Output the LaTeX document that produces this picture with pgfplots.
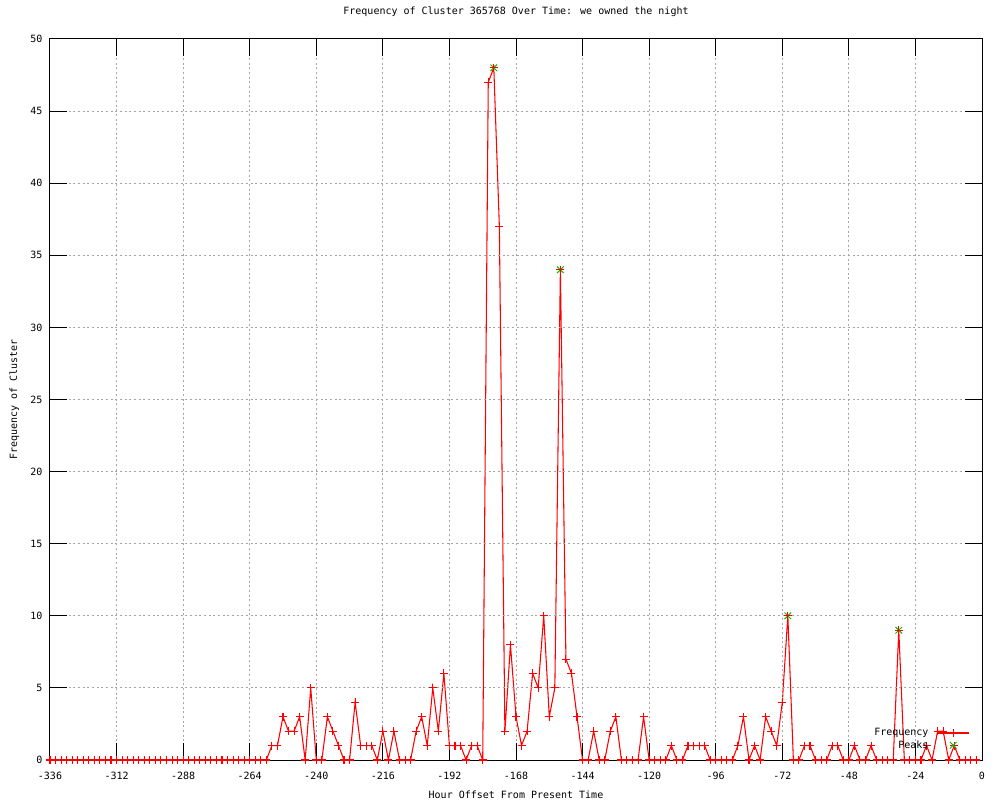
\documentclass[border=0pt]{standalone}
\usepackage{fontspec}
\setmainfont{DejaVu Sans Mono}
\usepackage{pgfplots}
\pgfplotsset{compat=1.18}
\usepackage{pgfplotstable}
\definecolor{gpred}{RGB}{255,0,0}
\definecolor{gpgreen}{RGB}{0,192,0}
\pgfplotstableread{
x y
-336 0
-334 0
-332 0
-330 0
-328 0
-326 0
-324 0
-322 0
-320 0
-318 0
-316 0
-314 0
-312 0
-310 0
-308 0
-306 0
-304 0
-302 0
-300 0
-298 0
-296 0
-294 0
-292 0
-290 0
-288 0
-286 0
-284 0
-282 0
-280 0
-278 0
-276 0
-274 0
-272 0
-270 0
-268 0
-266 0
-264 0
-262 0
-260 0
-258 0
-256 1
-254 1
-252 3
-250 2
-248 2
-246 3
-244 0
-242 5
-240 0
-238 0
-236 3
-234 2
-232 1
-230 0
-228 0
-226 4
-224 1
-222 1
-220 1
-218 0
-216 2
-214 0
-212 2
-210 0
-208 0
-206 0
-204 2
-202 3
-200 1
-198 5
-196 2
-194 6
-192 1
-190 1
-188 1
-186 0
-184 1
-182 1
-180 0
-178 47
-176 48
-174 37
-172 2
-170 8
-168 3
-166 1
-164 2
-162 6
-160 5
-158 10
-156 3
-154 5
-152 34
-150 7
-148 6
-146 3
-144 0
-142 0
-140 2
-138 0
-136 0
-134 2
-132 3
-130 0
-128 0
-126 0
-124 0
-122 3
-120 0
-118 0
-116 0
-114 0
-112 1
-110 0
-108 0
-106 1
-104 1
-102 1
-100 1
-98 0
-96 0
-94 0
-92 0
-90 0
-88 1
-86 3
-84 0
-82 1
-80 0
-78 3
-76 2
-74 1
-72 4
-70 10
-68 0
-66 0
-64 1
-62 1
-60 0
-58 0
-56 0
-54 1
-52 1
-50 0
-48 0
-46 1
-44 0
-42 0
-40 1
-38 0
-36 0
-34 0
-32 0
-30 9
-28 0
-26 0
-24 0
-22 0
-20 1
-18 0
-16 2
-14 2
-12 0
-10 1
-8 0
-6 0
-4 0
-2 0
}\freqdata
\pgfplotstableread{
x y
-176 48
-152 34
-70 10
-30 9
}\peakdata

\begin{document}
\begin{tikzpicture}
\path[use as bounding box] (-37.5pt,-30pt) rectangle (712.5pt,570pt);
\begin{axis}[
  at={(0pt,0pt)}, anchor=south west,
  width=699pt, height=540.75pt, scale only axis,
  xmin=-336, xmax=0, ymin=0, ymax=50,
  xtick={-336,-312,-288,-264,-240,-216,-192,-168,-144,-120,-96,-72,-48,-24,0},
  xticklabels={-336,-312,-288,-264,-240,-216,-192,-168,-144,-120,-96,-72,-48,-24,0},
  ytick={0,5,10,15,20,25,30,35,40,45,50},
  yticklabels={0,5,10,15,20,25,30,35,40,45,50},
  font=\fontsize{7.5}{9}\selectfont,
  axis on top,
  axis line style={black, line width=0.75pt},
  major tick length=12.5pt,
  every tick/.style={black, line width=0.75pt},
  tick align=inside,
  grid=major,
  major grid style={black!35, line width=0.75pt, dash pattern=on 1.5pt off 2pt},
  x tick label style={anchor=base, inner sep=0pt, yshift=-14.25pt},
  y tick label style={anchor=east, inner sep=0pt, xshift=-5.5pt},
  title={Frequency of Cluster 365768 Over Time: we owned the night},
  title style={at={(0.5,1)}, anchor=base, inner sep=0pt, yshift=12pt},
  xlabel={Hour Offset From Present Time},
  xlabel style={at={(axis description cs:0.5,0)}, anchor=base, inner sep=0pt, yshift=-28.5pt},
  ylabel={Frequency of Cluster},
  ylabel style={at={(axis description cs:-0.0354,0.5)}, anchor=base, inner sep=0pt},
  legend style={draw=none, fill=none, at={(0.9871,0.0437)}, anchor=north east,
    inner sep=0pt, outer sep=0pt, nodes={inner sep=0pt}, row sep=2pt, column sep=6pt,
    font=\fontsize{7.5}{9}\selectfont},
  legend plot pos=right,
  legend cell align=right,
  legend image code/.code={\draw[draw=gpred, line width=1.1pt, mark repeat=2,mark phase=2] plot coordinates {(0pt,0pt)(12pt,0pt)(24pt,0pt)};},
]
\addplot[gpgreen, only marks, mark=x, mark size=3.5pt, line width=0.75pt, forget plot] table[x=x,y=y]{\peakdata};
\addplot[gpred, line width=0.8pt, mark=+, mark size=3pt, mark options={gpred, line width=0.8pt}, forget plot] table[x=x,y=y]{\freqdata};
\addlegendimage{gpred, line width=1.1pt, mark=+, mark size=3pt, mark options={draw=gpred, line width=0.8pt}}
\addlegendentry{Frequency}
\addlegendimage{gpgreen, only marks, mark=x, mark size=3.5pt, line width=0.75pt, mark options={draw=gpgreen, line width=0.75pt}}
\addlegendentry{Peaks}
\end{axis}
\end{tikzpicture}
\end{document}
